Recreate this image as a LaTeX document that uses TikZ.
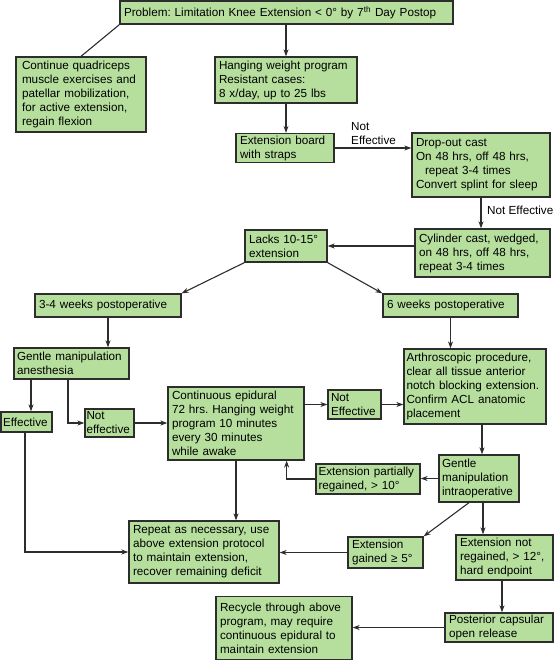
\documentclass[tikz,border=0pt]{standalone}
\usepackage{fontspec}
\setmainfont{Liberation Sans}
\usetikzlibrary{arrows.meta}

\definecolor{boxgreen}{RGB}{182,223,158}
\definecolor{linegray}{RGB}{45,45,45}
\hyphenpenalty=10000
\exhyphenpenalty=10000

\begin{document}
\frenchspacing
\begin{tikzpicture}[x=1pt, y=-1pt,
  box/.style={draw=linegray, line width=1.3pt, fill=boxgreen,
              align=left, inner xsep=4pt, inner ysep=2pt,
              font=\fontsize{11.7}{14}\selectfont},
  arr/.style={-{Stealth[length=7pt, width=5pt]}, line width=1.1pt, draw=linegray},
  plain/.style={line width=1.1pt, draw=linegray},
  lab/.style={align=left, inner sep=0pt, font=\fontsize{11.7}{14}\selectfont}
]
  \useasboundingbox (0,0) rectangle (555,661);

  % top row
  \node[box, text width=325pt, minimum height=23pt] (prob) at (286.5,12.5)
    {Problem: Limitation Knee Extension < 0° by 7\textsuperscript{th} Day Postop};
  \node[box, inner xsep=6pt, text width=118pt, minimum height=75pt] (cont) at (81,94.5)
    {Continue quadriceps\\muscle exercises and\\patellar mobilization,\\for active extension,\\regain flexion};
  \node[box, text width=134pt, minimum height=46pt] (hang) at (286,80)
    {Hanging weight program\\Resistant cases:\\8 x/day, up to 25 lbs};
  \node[box, text width=90pt, minimum height=28pt] (board) at (285,148)
    {Extension board\\with straps};
  \node[box, text width=130pt, minimum height=64pt] (drop) at (481,165)
    {Drop-out cast\\On 48 hrs, off 48 hrs,\\\hspace*{9pt}repeat 3-4 times\\Convert splint for sleep};
  \node[box, text width=127pt, minimum height=48pt] (cyl) at (482.5,253)
    {Cylinder cast, wedged,\\on 48 hrs, off 48 hrs,\\repeat 3-4 times};
  \node[box, text width=74pt, minimum height=32pt] (lacks) at (286,246)
    {Lacks 10-15°\\extension};

  % two branches
  \node[box, text width=138pt, minimum height=23pt] (wkA) at (108,305.5)
    {3-4 weeks postoperative};
  \node[box, text width=127pt, minimum height=23pt] (wkB) at (450.5,305.5)
    {6 weeks postoperative};
  \node[box, inner xsep=3pt, text width=109pt, minimum height=31pt] (gman) at (71.5,363.5)
    {Gentle manipulation\\anesthesia};
  \node[box, inner xsep=2pt, text width=47pt, minimum height=20pt] (eff) at (26.5,422)
    {Effective};
  \node[box, inner xsep=1.5pt, text width=46pt, minimum height=28pt] (neffA) at (109.5,423)
    {Not\\effective};
  \node[box, text width=128pt, minimum height=73pt] (epi) at (236,423.5)
    {Continuous epidural\\72 hrs. Hanging weight\\program 10 minutes\\every 30 minutes\\while awake};
  \node[box, inner xsep=3pt, text width=47pt, minimum height=29pt] (neffB) at (354.5,404.5)
    {Not\\Effective};
  \node[box, inner xsep=2.5pt, text width=137pt, minimum height=75pt] (arth) at (475,386.5)
    {Arthroscopic procedure,\\clear all tissue anterior\\notch blocking extension.\\Confirm ACL anatomic\\placement};
  \node[box, inner xsep=3pt, text width=74pt, minimum height=47pt] (gmi) at (479,478.5)
    {Gentle\\manipulation\\intraoperative};
  \node[box, inner xsep=2.5pt, text width=99pt, minimum height=30pt] (part) at (368,479)
    {Extension partially\\regained, > 10°};

  % bottom
  \node[box, text width=142pt, minimum height=62pt] (rep) at (204,552)
    {Repeat as necessary, use\\above extension protocol\\to maintain extension,\\recover remaining deficit};
  \node[box, text width=67pt, minimum height=31pt] (gain) at (385.5,552.5)
    {Extension\\gained ≥ 5°};
  \node[box, text width=89pt, minimum height=45pt] (nreg) at (504.5,557.5)
    {Extension not\\regained, > 12°,\\hard endpoint};
  \node[box, text width=100pt, minimum height=29pt] (post) at (499,627.5)
    {Posterior capsular\\open release};
  \node[box, text width=128pt, minimum height=63pt] (recyc) at (284,628)
    {Recycle through above\\program, may require\\continuous epidural to\\maintain extension};

  % connectors
  \draw[arr] (prob.south -| hang.north) -- (hang.north);
  \draw[plain] (prob.south west) -- (cont.north);
  \draw[arr] (hang.south) -- (hang.south |- board.north);
  \draw[arr] (board.east) -- (board.east -| drop.west);
  \node[lab, anchor=south west] (neffC) at (351,145) {Not\\Effective};
  \draw[arr] (drop.south) -- (drop.south |- cyl.north);
  \node[lab, anchor=west] (neffD) at (487,210) {Not Effective};
  \draw[arr] (lacks.east -| cyl.west) -- (lacks.east);
  \draw[arr] (lacks.south west) -- (wkA.north east);
  \draw[arr] (lacks.south east) -- (wkB.north west);
  \draw[arr] (wkA.south) -- (wkA.south |- gman.north);
  \draw[arr] (wkB.south) -- (wkB.south |- arth.north);
  \draw[arr] ([xshift=4.5pt]eff.north |- gman.south) -- ([xshift=4.5pt]eff.north);
  \draw[arr] ([xshift=-3.5pt]gman.south) |- (neffA.west);
  \draw[arr] (neffA.east) -- (neffA.east -| epi.west);
  \draw[arr] (epi.east |- neffB.west) -- (neffB.west);
  \draw[arr] (neffB.east) -- (neffB.east -| arth.west);
  \draw[arr] ([xshift=3pt]gmi.north |- arth.south) -- ([xshift=3pt]gmi.north);
  \draw[arr] (gmi.west) -- (gmi.west -| part.east);
  \draw[arr] (part.west) -| ([xshift=-18pt]epi.south east);
  \draw[arr] (epi.south) -- (epi.south |- rep.north);
  \draw[arr] ([xshift=-1.5pt]eff.south) |- (rep.west);
  \draw[arr] ([xshift=-10pt]gmi.south) -- (gain.north east);
  \draw[arr] ([xshift=4pt]gmi.south) -- ([xshift=4pt]gmi.south |- nreg.north);
  \draw[arr] (gain.west) -- (gain.west -| rep.east);
  \draw[arr] ([xshift=-2.5pt]nreg.south) -- ([xshift=-2.5pt]nreg.south |- post.north);
  \draw[arr] (post.west) -- (post.west -| recyc.east);
\end{tikzpicture}
\end{document}
